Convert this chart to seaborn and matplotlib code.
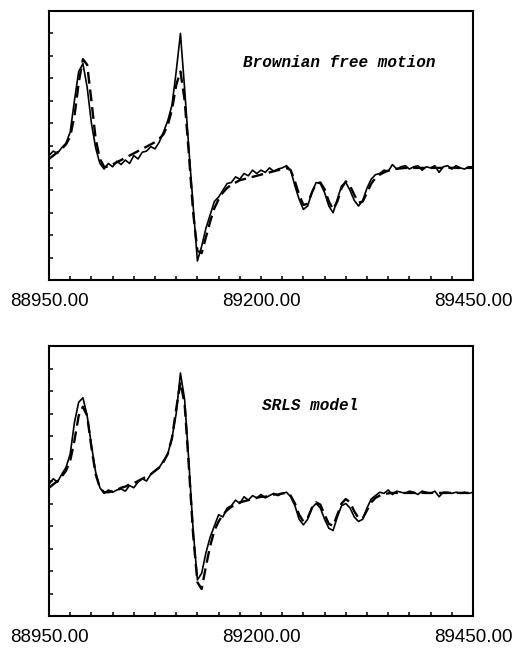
import numpy as np
import pandas as pd
import matplotlib
matplotlib.use("Agg")
import matplotlib.pyplot as plt
import seaborn as sns
from matplotlib.ticker import FixedLocator, FuncFormatter

sns.set_theme(style="white")
plt.rcParams['font.family'] = ['Liberation Sans', 'DejaVu Sans']

# field axis (grid of the spectra)
field = np.arange(88950, 89455, 5)

tick_label_values = [88950, 89200, 89450]
panel_titles = ["Brownian free motion", "SRLS model"]

top_experiment = [
    5.55, 5.75, 5.65, 5.9, 6.1, 6.6, 8.0, 9.3, 9.65, 8.6,
    7.0, 5.9, 5.2, 4.95, 5.2, 5.05, 5.3, 5.15, 5.35, 5.2,
    5.55, 5.4, 5.7, 5.75, 5.95, 5.85, 6.15, 6.6, 7.1, 7.8,
    9.3, 11.0, 8.5, 5.8, 3.3, 0.85, 1.5, 2.3, 2.9, 3.5,
    3.7, 4.0, 4.3, 4.35, 4.6, 4.5, 4.75, 4.65, 4.9, 4.75,
    4.9, 4.8, 5.0, 4.85, 4.95, 5.0, 5.1, 4.9, 4.2, 3.6,
    3.15, 3.3, 3.9, 4.35, 4.3, 3.9, 3.3, 3.0, 3.6, 4.2,
    4.35, 4.0, 3.55, 3.3, 3.55, 4.1, 4.5, 4.7, 4.75, 4.9,
    4.85, 5.15, 4.95, 5.05, 5.1, 4.95, 5.05, 5.1, 4.9, 5.05,
    5.0, 5.1, 4.8, 5.05, 5.1, 4.95, 5.1, 5.0, 4.95, 5.05,
    5.05,
]
top_simulation = [
    5.4, 5.55, 5.7, 5.85, 6.05, 6.4, 7.3, 8.8, 9.85, 9.6,
    8.0, 6.3, 5.4, 5.05, 5.05, 5.15, 5.25, 5.35, 5.45, 5.55,
    5.65, 5.75, 5.85, 5.95, 6.05, 6.15, 6.3, 6.5, 6.9, 7.6,
    8.7, 9.3, 8.0, 5.6, 3.0, 1.3, 1.2, 1.9, 2.6, 3.2,
    3.6, 3.9, 4.1, 4.25, 4.35, 4.45, 4.5, 4.55, 4.6, 4.65,
    4.7, 4.75, 4.8, 4.85, 4.9, 4.95, 5.0, 4.9, 4.4, 3.8,
    3.35, 3.4, 3.9, 4.3, 4.35, 4.05, 3.5, 3.15, 3.5, 4.1,
    4.4, 4.2, 3.8, 3.45, 3.5, 3.9, 4.3, 4.55, 4.7, 4.8,
    4.88, 4.93, 4.96, 4.98, 5.0, 5.0, 5.0, 5.0, 5.0, 5.0,
    5.0, 5.0, 5.0, 5.0, 5.0, 5.0, 5.0, 5.0, 5.0, 5.0,
    5.0,
]
bottom_experiment = [
    5.85, 6.1, 5.95, 6.3, 6.6, 7.2, 8.6, 9.5, 9.7, 8.9,
    7.6, 6.4, 5.7, 5.45, 5.6, 5.5, 5.6, 5.65, 5.55, 5.8,
    5.7, 5.95, 6.1, 6.0, 6.3, 6.45, 6.6, 6.9, 7.2, 7.9,
    9.0, 10.8, 9.6, 6.8, 3.8, 1.6, 1.9, 2.8, 3.5, 4.0,
    4.5, 4.4, 4.8, 4.9, 5.15, 5.0, 5.3, 5.15, 5.35, 5.25,
    5.4, 5.25, 5.35, 5.45, 5.35, 5.45, 5.5, 5.3, 4.9, 4.3,
    4.05, 4.3, 4.8, 5.0, 4.8, 4.3, 3.9, 3.8, 4.4, 4.9,
    5.0, 4.8, 4.4, 4.2, 4.3, 4.8, 5.2, 5.35, 5.5, 5.45,
    5.6, 5.4, 5.55, 5.5, 5.45, 5.55, 5.5, 5.4, 5.55, 5.5,
    5.45, 5.55, 5.3, 5.5, 5.5, 5.45, 5.5, 5.45, 5.5, 5.45,
    5.5,
]
bottom_simulation = [
    5.7, 5.85, 6.0, 6.2, 6.45, 6.9, 7.8, 8.9, 9.3, 8.9,
    7.5, 6.3, 5.7, 5.5, 5.5, 5.55, 5.6, 5.7, 5.75, 5.85,
    5.9, 6.0, 6.1, 6.2, 6.3, 6.45, 6.6, 6.85, 7.2, 7.9,
    9.2, 10.4, 9.4, 6.6, 3.6, 1.5, 1.2, 2.2, 3.1, 3.8,
    4.2, 4.5, 4.7, 4.85, 4.95, 5.05, 5.1, 5.15, 5.2, 5.25,
    5.3, 5.3, 5.35, 5.4, 5.4, 5.45, 5.45, 5.35, 5.0, 4.5,
    4.2, 4.35, 4.8, 5.05, 4.95, 4.5, 4.1, 4.0, 4.5, 5.0,
    5.2, 5.05, 4.65, 4.35, 4.35, 4.7, 5.05, 5.25, 5.35, 5.42,
    5.45, 5.47, 5.47, 5.47, 5.47, 5.47, 5.47, 5.47, 5.47, 5.47,
    5.47, 5.47, 5.47, 5.47, 5.47, 5.47, 5.47, 5.47, 5.47, 5.47,
    5.47,
]

panels = [(top_experiment, top_simulation), (bottom_experiment, bottom_simulation)]

fig = plt.figure(figsize=(5.16, 6.49), dpi=100)
rects = [
    [49 / 516, (649 - 280) / 649, 424 / 516, 269 / 649],
    [49 / 516, (649 - 616) / 649, 424 / 516, 270 / 649],
]
title_pos = [(0.458, 0.81), (0.502, 0.78)]

for i, ((exp, sim), rect) in enumerate(zip(panels, rects)):
    ax = fig.add_axes(rect)
    df = pd.DataFrame({"field": field, "exp": exp, "sim": sim})
    sns.lineplot(data=df, x="field", y="exp", ax=ax, color="black",
                 linewidth=1.2, estimator=None)
    sns.lineplot(data=df, x="field", y="sim", ax=ax, color="black",
                 linewidth=1.7, linestyle=(0, (5, 2.5)), estimator=None)
    ax.set_xlim(88950, 89450)
    ax.set_ylim(0, 12)
    ax.set_xlabel("")
    ax.set_ylabel("")
    ax.set_facecolor("white")
    for s in ax.spines.values():
        s.set_visible(True)
        s.set_color("black")
        s.set_linewidth(1.5)
    ax.xaxis.set_major_locator(FixedLocator(np.arange(88950, 89451, 25)))
    ax.xaxis.set_major_formatter(FuncFormatter(
        lambda v, p: f"{v:.2f}" if int(round(v)) in tick_label_values else ""))
    ax.yaxis.set_major_locator(FixedLocator(np.arange(1, 12, 1)))
    ax.set_yticklabels([])
    ax.tick_params(axis="x", direction="in", length=3, width=1.1, color="black",
                   bottom=True, top=False, labelsize=13.5, pad=9)
    ax.tick_params(axis="y", direction="in", length=3, width=1.1, color="black",
                   left=True, right=False)
    for lab in ax.get_xticklabels():
        lab.set_color("black")
    ax.text(title_pos[i][0], title_pos[i][1], panel_titles[i], transform=ax.transAxes,
            fontsize=11.5, fontstyle="italic", fontweight="bold", va="center", ha="left",
            family=["Liberation Mono", "DejaVu Sans Mono"], color="black")
    ax.grid(False)

fig.savefig("out.png", dpi=100, facecolor="white")
